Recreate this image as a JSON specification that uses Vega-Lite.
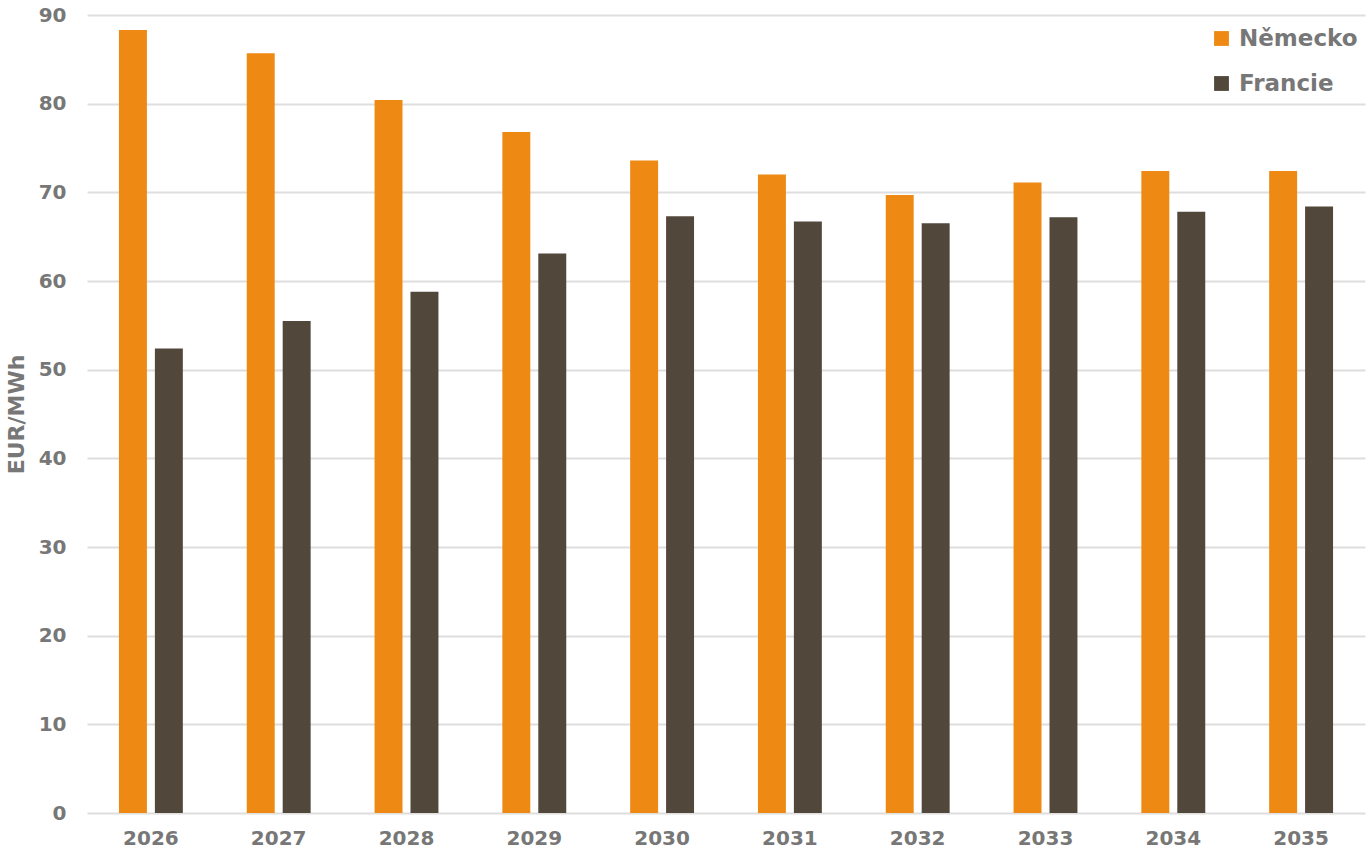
{
  "$schema": "https://vega.github.io/schema/vega-lite/v6.json",
  "width": 1278,
  "height": 798,
  "autosize": {"type": "none"},
  "padding": {"left": 87, "top": 15, "right": 3, "bottom": 41},
  "background": "white",
  "config": {
    "view": {"stroke": null},
    "font": "DejaVu Sans"
  },
  "data": {
    "values": [
      {"year": "2026", "country": "Německo", "value": 88.3},
      {"year": "2026", "country": "Francie", "value": 52.4},
      {"year": "2027", "country": "Německo", "value": 85.7},
      {"year": "2027", "country": "Francie", "value": 55.5},
      {"year": "2028", "country": "Německo", "value": 80.4},
      {"year": "2028", "country": "Francie", "value": 58.8},
      {"year": "2029", "country": "Německo", "value": 76.8},
      {"year": "2029", "country": "Francie", "value": 63.1},
      {"year": "2030", "country": "Německo", "value": 73.6},
      {"year": "2030", "country": "Francie", "value": 67.3},
      {"year": "2031", "country": "Německo", "value": 72.0},
      {"year": "2031", "country": "Francie", "value": 66.7},
      {"year": "2032", "country": "Německo", "value": 69.7},
      {"year": "2032", "country": "Francie", "value": 66.5},
      {"year": "2033", "country": "Německo", "value": 71.1},
      {"year": "2033", "country": "Francie", "value": 67.2},
      {"year": "2034", "country": "Německo", "value": 72.4},
      {"year": "2034", "country": "Francie", "value": 67.8},
      {"year": "2035", "country": "Německo", "value": 72.4},
      {"year": "2035", "country": "Francie", "value": 68.4}
    ]
  },
  "mark": {"type": "bar"},
  "encoding": {
    "x": {
      "field": "year",
      "type": "nominal",
      "scale": {"paddingInner": 0.5, "paddingOuter": 0.25},
      "axis": {
        "title": null,
        "labelAngle": 0,
        "labelFontSize": 20,
        "labelFontWeight": "bold",
        "labelColor": "#777777",
        "labelPadding": 15,
        "ticks": false,
        "domain": false,
        "grid": false
      }
    },
    "xOffset": {
      "field": "country",
      "type": "nominal",
      "sort": ["Německo", "Francie"],
      "scale": {"paddingInner": 0.222}
    },
    "y": {
      "field": "value",
      "type": "quantitative",
      "scale": {"domain": [0, 90], "nice": false},
      "axis": {
        "title": "EUR/MWh",
        "titleFontSize": 22,
        "titleFontWeight": "bold",
        "titleColor": "#777777",
        "titlePadding": 10,
        "values": [0, 10, 20, 30, 40, 50, 60, 70, 80, 90],
        "labelFontSize": 20,
        "labelFontWeight": "bold",
        "labelColor": "#777777",
        "labelPadding": 21,
        "ticks": false,
        "domain": false,
        "grid": true,
        "gridColor": "#dedede",
        "gridWidth": 2
      }
    },
    "color": {
      "field": "country",
      "type": "nominal",
      "sort": ["Německo", "Francie"],
      "scale": {"domain": ["Německo", "Francie"], "range": ["#EE8A14", "#52473B"]},
      "legend": {
        "title": null,
        "orient": "none",
        "legendX": 1123,
        "legendY": 12,
        "symbolType": "square",
        "symbolSize": 220,
        "symbolStrokeWidth": 0,
        "labelFontSize": 23,
        "labelFontWeight": "bold",
        "labelColor": "#777777",
        "rowPadding": 21,
        "labelOffset": 6
      }
    }
  }
}
